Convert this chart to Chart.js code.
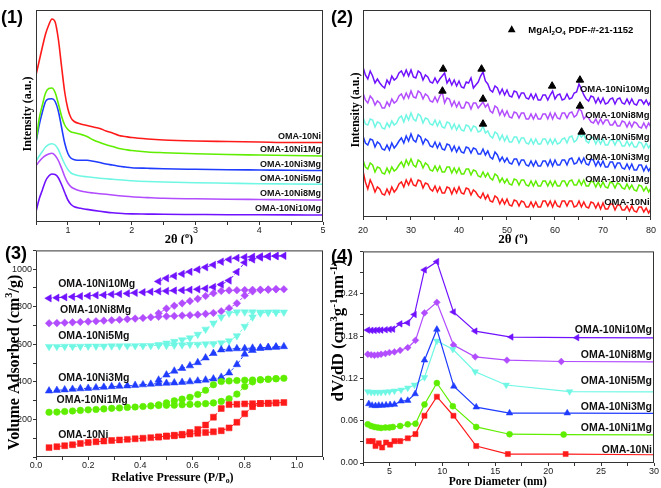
<!DOCTYPE html>
<html>
<head>
<meta charset="utf-8">
<script src="https://cdn.jsdelivr.net/npm/chart.js@4.4.1/dist/chart.umd.min.js"></script>
<style>
  html, body { margin: 0; padding: 0; background: #fff; }
  #wrap { position: relative; width: 661px; height: 488px; overflow: hidden; }
  canvas { position: absolute; }
  .tag { position: absolute; z-index: 2; font: bold 18px "Liberation Sans", Arial, sans-serif; line-height: 18px; color: #000; }
</style>
</head>
<body>
<div id="wrap">
  <canvas id="c1" width="330" height="244" style="left:0;top:0"></canvas>
  <canvas id="c2" width="331" height="244" style="left:330px;top:0"></canvas>
  <canvas id="c3" width="330" height="244" style="left:0;top:244px"></canvas>
  <canvas id="c4" width="331" height="244" style="left:330px;top:244px"></canvas>
  <div class="tag" style="left:1px;top:8px">(1)</div>
  <div class="tag" style="left:331px;top:8px">(2)</div>
  <div class="tag" style="left:5px;top:244px">(3)</div>
  <div class="tag" style="left:331px;top:247px">(4)</div>
</div>
<script>
// ---- data ----
const sampleNames = ['OMA-10Ni', 'OMA-10Ni1Mg', 'OMA-10Ni3Mg', 'OMA-10Ni5Mg', 'OMA-10Ni8Mg', 'OMA-10Ni10Mg'];

// (1) low-angle XRD
const saxsTheta = [0.5, 0.55, 0.6, 0.65, 0.7, 0.75, 0.8, 0.85, 0.9, 0.95, 1.0, 1.05, 1.1, 1.2, 1.3, 1.4, 1.5, 1.6, 1.7, 1.8, 1.9, 2.0, 2.25, 2.5, 3.0, 3.5, 4.0, 4.5, 5.0];
const saxs10Ni = [147, 161, 175, 188, 197, 203, 200, 183, 156, 130, 113, 104, 100.5, 98, 96.5, 95, 93.5, 91, 89, 86.5, 85.5, 84.5, 83, 82, 81, 80.5, 80, 79.5, 79.5];
const saxs1Mg = [80, 103, 117, 129, 133.5, 134, 129.5, 118.5, 106, 97, 92.5, 90, 89.3, 87.7, 85.5, 82, 79.5, 77.3, 75.5, 73.5, 72.5, 71.5, 70, 69.3, 68.3, 67.5, 67, 66.5, 66];
const saxs3Mg = [79.7, 97, 110, 120.5, 123, 123.3, 120.5, 111, 95, 79, 68.5, 63.7, 62.3, 61.7, 61.7, 60.8, 59.5, 58, 57, 55.8, 55, 54.3, 53.7, 53.2, 52.7, 52.3, 52, 51.7, 51.5];
const saxs5Mg = [60.7, 66, 70.5, 75, 77.5, 78.3, 77, 72.5, 65, 58, 52.5, 49, 47.5, 46, 45.2, 44.5, 43.8, 43.2, 42.7, 42.2, 41.8, 41.3, 40.5, 40, 39.3, 38.8, 38.3, 38, 37.7];
const saxs8Mg = [56.3, 60.5, 64, 66.5, 68, 68.7, 66.5, 61.5, 54, 45.5, 39, 35.2, 33.3, 31, 29.8, 29, 28.3, 27.7, 27, 26.3, 25.7, 25.2, 24.4, 23.7, 23.2, 22.8, 22.5, 22.2, 22];
const saxs10Mg = [10.3, 23, 32, 41, 46, 48, 47.5, 44.3, 37.5, 29.5, 22, 17.5, 15.2, 13.7, 12.6, 11.6, 10.7, 9.9, 9.2, 8.7, 8.3, 8.1, 7.9, 7.7, 7.5, 7.3, 7.2, 7.1, 7];

// (2) wide-angle XRD, scan 20-80 deg, step 0.5
const xrdStart = 20, xrdStep = 0.5;
const xrd10Ni = [46,35,28,37,32,25,30,28,23,22, 28,23,30,25,28,33,35,30,37,32, 38,32,31,37,36,29,34,33,28,26,
  31,25,30,24,24,30,29,23,29,24, 30,24,23,29,28,22,27,25,21,19, 24,18,22,16,15,21,19,13,18,13,
  18,12,11,17,16,11,16,15,10,10, 15,10,15,10,10,16,16,11,16,10, 16,11,10,16,16,11,16,16,10,11,
  16,10,15,10,9,15,14,9,14,8, 14,8,8,13,13,7,12,12,7,7, 11,6,11,6,5,10,10,5,9,4, 8];
const xrd1Mg = [57,50,48,54,52,45,50,49,44,43, 49,44,50,46,48,52,55,50,57,52, 58,52,50,57,55,49,54,52,47,46,
  51,46,51,45,45,50,50,44,49,44, 49,43,43,48,48,42,47,46,41,40, 45,40,44,39,37,43,41,35,39,34,
  38,33,32,38,37,32,37,37,32,31, 36,31,36,31,31,36,36,31,36,31, 36,31,31,36,36,31,36,37,32,32,
  37,32,37,31,31,36,35,30,35,30, 35,30,29,35,34,29,34,33,29,28, 33,28,32,27,26,32,31,26,30,25, 29];
const xrd3Mg = [81,74,72,78,77,70,75,73,68,67, 72,67,74,69,72,76,79,74,81,76, 83,77,75,82,80,73,78,76,71,70,
  75,69,74,68,67,73,72,66,71,65, 70,65,64,70,69,64,69,68,63,63, 68,62,66,60,58,65,62,56,60,55,
  59,54,53,58,58,52,57,57,52,51, 56,51,56,51,51,56,56,51,57,51, 57,52,52,57,57,52,58,59,53,54,
  59,54,59,53,52,58,57,51,56,51, 56,50,50,55,55,49,54,54,49,48, 53,48,53,47,47,52,52,46,51,46, 50];
const xrd5Mg = [100,93,92,98,97,90,95,94,89,88, 94,90,96,92,94,99,101,95,102,97, 104,98,96,103,101,94,99,98,93,92,
  97,91,96,90,89,95,94,88,93,87, 92,87,86,92,91,86,91,90,85,86, 91,84,86,81,79,85,83,77,82,76,
  81,75,75,80,80,74,79,79,74,73, 78,73,78,73,73,78,78,73,78,73, 78,73,74,78,79,74,80,81,75,77,
  83,80,83,76,74,80,79,73,78,73, 78,72,72,77,77,72,77,76,71,71, 76,71,75,70,70,75,74,69,74,69, 73];
const xrd8Mg = [124,117,114,121,118,112,116,114,109,109, 115,111,118,114,116,121,123,118,124,119, 126,120,119,126,124,118,123,121,116,115,
  120,115,121,125,114,119,118,111,116,110, 115,109,109,115,114,108,114,114,109,112, 115,110,113,106,104,111,109,102,107,101,
  106,100,99,105,104,99,104,104,98,98, 103,98,103,98,98,103,103,98,104,98, 104,99,98,104,104,99,104,105,100,102,
  108,106,98,101,99,95,94,98,93,98, 93,97,97,92,92,96,91,91,96,95, 90,95,90,95,94,90,89,94,89,94, 90];
const xrd10Mg = [150,142,138,146,141,134,138,134,131,129, 137,133,141,137,139,144,146,141,147,141, 147,140,139,146,144,137,142,140,135,134,
  139,134,138,141,144,134,138,132,137,131, 136,130,129,135,134,139,129,132,135,141, 145,136,133,127,125,131,129,123,128,122,
  127,121,120,126,125,119,124,124,119,118, 123,118,123,117,117,122,122,117,122,126, 118,122,123,117,118,123,118,119,124,125,
  133,128,122,118,116,121,120,114,119,114, 119,113,114,118,119,113,118,119,114,113, 118,113,118,113,112,117,117,113,117,112, 116];
// MgAl2O4 reflections marked with triangles
const spinelTheta = [36.7, 44.7, 59.4, 65.2, 36.55, 45.0, 65.2, 45.0, 65.55];
const spinelI = [148, 148, 131, 137, 126, 118, 111, 93, 85];

// (3) N2 isotherms
const isoAdsP = [0.05, 0.08, 0.11, 0.14, 0.17, 0.20, 0.23, 0.26, 0.29, 0.32, 0.35, 0.38, 0.41, 0.44, 0.47, 0.50, 0.53, 0.56, 0.59, 0.62, 0.65, 0.68, 0.71, 0.74, 0.77, 0.80, 0.83, 0.86, 0.89, 0.92, 0.95];
const isoDesP = [0.92, 0.89, 0.86, 0.83, 0.80, 0.77, 0.74, 0.71, 0.68, 0.65, 0.62, 0.59, 0.56, 0.53, 0.50, 0.47];
const ads10Ni = [50, 55, 60, 65, 72, 77, 81, 85, 88, 91, 94, 97, 100, 103, 106, 110, 113, 117, 122, 126, 130, 134, 140, 155, 185, 230, 268, 285, 286, 288, 290];
const des10Ni = [288, 286, 285, 284, 283, 281, 279, 258, 212, 170, 147, 130, 121, 116, 112, 107];
const ads1Mg = [238, 239, 242, 245, 248, 251, 253, 256, 259, 261, 264, 266, 269, 272, 274, 275, 276, 278, 280, 281, 284, 288, 296, 310, 335, 375, 400, 411, 414, 417, 419];
const des1Mg = [417, 414, 411, 410, 409, 407, 405, 402, 385, 355, 333, 318, 308, 299, 288, 278];
const ads3Mg = [352, 355, 358, 361, 364, 366, 369, 372, 375, 377, 379, 382, 385, 388, 391, 393, 395, 398, 401, 405, 410, 416, 425, 448, 492, 548, 568, 579, 582, 585, 588];
const des3Mg = [586, 584, 582, 580, 578, 577, 575, 571, 552, 528, 503, 486, 472, 458, 437, 410];
const ads5Mg = [588, 588, 589, 589, 589, 590, 590, 590, 591, 591, 592, 592, 593, 593, 594, 594, 595, 597, 599, 600, 602, 603, 607, 618, 645, 695, 745, 766, 770, 771, 771];
const des5Mg = [771, 771, 771, 772, 772, 772, 765, 745, 712, 680, 653, 634, 624, 615, 606, 598];
const ads8Mg = [712, 713, 715, 717, 719, 721, 723, 726, 728, 731, 734, 737, 740, 744, 747, 749, 751, 753, 755, 758, 762, 767, 776, 792, 818, 860, 882, 889, 891, 893, 893];
const des8Mg = [893, 892, 891, 890, 889, 888, 887, 884, 872, 857, 842, 830, 818, 805, 790, 765];
const ads10Mg = [845, 848, 851, 853, 856, 858, 861, 863, 866, 868, 871, 874, 877, 880, 882, 884, 886, 888, 890, 893, 897, 905, 918, 940, 985, 1035, 1052, 1062, 1067, 1070, 1071];
const des10Mg = [1070, 1069, 1068, 1066, 1064, 1060, 1052, 1040, 1023, 1010, 998, 986, 975, 964, 952, 935];

// (4) pore size distributions
const psd10NiD = [3.05, 3.42, 3.68, 3.99, 4.31, 4.68, 5.06, 5.47, 6.01, 6.73, 7.46, 8.31, 9.48, 11.05, 13.2, 16.19, 21.65, 40];
const psd10NiV = [0.031, 0.031, 0.024, 0.028, 0.022, 0.029, 0.026, 0.031, 0.031, 0.035, 0.041, 0.067, 0.094, 0.067, 0.024, 0.0127, 0.0127, 0.0105];
const psd1MgD = [2.95, 3.27, 3.58, 3.9, 4.21, 4.62, 5.0, 5.32, 6.01, 6.73, 7.46, 8.31, 9.48, 10.99, 13.2, 16.35, 21.46, 40];
const psd1MgV = [0.0548, 0.0525, 0.0511, 0.0502, 0.0497, 0.0502, 0.0502, 0.0511, 0.0525, 0.0548, 0.0558, 0.083, 0.1134, 0.0806, 0.0511, 0.0408, 0.0403, 0.0392];
const psd3MgD = [3.05, 3.36, 3.68, 3.99, 4.31, 4.68, 5.06, 5.47, 6.1, 6.73, 7.43, 8.31, 9.48, 11.08, 13.2, 16.35, 21.8, 40];
const psd3MgV = [0.0839, 0.0816, 0.0811, 0.0816, 0.0816, 0.082, 0.0825, 0.083, 0.0877, 0.0886, 0.098, 0.1458, 0.1894, 0.1088, 0.0792, 0.0708, 0.0708, 0.0698];
const psd5MgD = [2.95, 3.27, 3.58, 3.9, 4.21, 4.62, 5.0, 5.47, 6.1, 6.73, 7.36, 8.31, 9.48, 10.99, 13.1, 16.03, 22.02, 40];
const psd5MgV = [0.1013, 0.1003, 0.1003, 0.1003, 0.1003, 0.1008, 0.1013, 0.1022, 0.1036, 0.1064, 0.1106, 0.1214, 0.173, 0.1613, 0.1294, 0.1106, 0.1013, 0.1005];
const psd8MgD = [2.95, 3.27, 3.58, 3.9, 4.21, 4.62, 5.0, 5.47, 6.01, 6.73, 7.46, 8.31, 9.48, 11.05, 13.1, 16.1, 21.24, 40];
const psd8MgV = [0.1542, 0.1533, 0.1528, 0.1533, 0.1542, 0.1552, 0.1566, 0.1575, 0.1598, 0.1636, 0.1739, 0.2128, 0.2278, 0.1673, 0.1505, 0.1458, 0.1439, 0.1425];
const psd10MgD = [2.95, 3.27, 3.58, 3.9, 4.21, 4.62, 5.0, 5.32, 6.01, 6.73, 7.36, 8.31, 9.48, 11.05, 13.1, 16.5, 22.72, 40];
const psd10MgV = [0.1884, 0.188, 0.188, 0.1884, 0.1884, 0.1889, 0.1894, 0.1898, 0.1973, 0.1988, 0.2105, 0.2738, 0.2855, 0.2142, 0.187, 0.1786, 0.1777, 0.1768];

// ---- styles / layout ----
const SANS = '"Liberation Sans", Arial, sans-serif';
const SERIF = '"Liberation Serif", "Times New Roman", serif';
const lineColors = ['#ff1a1a', '#5fee00', '#1f3cff', '#6ff7e4', '#b24cff', '#7012ff'];
const pointStyles = ['rect', 'circle', 'triangle', 'triangle', 'rectRot', 'triangle'];
const pointRotations = [0, 0, 0, 180, 0, -90];
const isoRadius = [4.2, 3.3, 4.3, 4.3, 3.8, 4.3];
const psdRadius = [3.6, 3.0, 3.8, 3.8, 3.4, 3.8];

// label anchors, in data units of each panel
const saxsLabelX = 4.97, saxsLabelY = [85.3, 72, 57.7, 43, 28, 13];
const xrdLabelX = 79.7, xrdLabelY = [15, 37.3, 60, 80, 101.7, 127.3];
const isoLabelX = [0.085, 0.079, 0.085, 0.085, 0.092, 0.085], isoLabelY = [116, 305, 419, 646, 783, 921];
const psdLabelX = 29.8, psdLabelY = [0.0188, 0.0488, 0.0792, 0.1158, 0.1533, 0.1884];

Chart.defaults.font.family = SANS;
Chart.defaults.color = '#222';

const near = (v, k) => Math.abs(v / k - Math.round(v / k)) < 1e-6;

function axis(o) {
  const showTicks = o.label !== undefined;
  return {
    type: 'linear', min: o.min, max: o.max,
    afterFit: s => { if (s.isHorizontal()) s.height = o.size; else s.width = o.size; },
    border: { display: false },
    grid: { display: showTicks, drawOnChartArea: false, drawTicks: true, tickLength: 3, color: '#333' },
    ticks: showTicks ? {
      stepSize: o.step, autoSkip: false, maxRotation: 0, padding: o.pad || 0,
      font: { size: 9 }, color: '#222', callback: o.label
    } : { display: false }
  };
}

// draws text made of normal / sup / sub pieces
function rich(ctx, parts, x, y, size, opt) {
  const fam = opt.family || SERIF, wt = opt.weight || 'bold';
  const fontOf = k => `${wt} ${k ? size * 0.65 : size}px ${fam}`;
  let total = 0;
  parts.forEach(([t, k]) => { ctx.font = fontOf(k); total += ctx.measureText(t).width; });
  ctx.save();
  ctx.translate(x, y);
  if (opt.rotate) ctx.rotate(opt.rotate);
  ctx.fillStyle = '#000';
  ctx.textAlign = 'left';
  ctx.textBaseline = 'alphabetic';
  let cx = opt.align === 'left' ? 0 : opt.align === 'right' ? -total : -total / 2;
  parts.forEach(([t, k]) => {
    ctx.font = fontOf(k);
    const dy = k === 'sup' ? -size * 0.4 : k === 'sub' ? size * 0.2 : 0;
    ctx.fillText(t, cx, size * 0.35 + dy);
    cx += ctx.measureText(t).width;
  });
  ctx.restore();
}

function seriesLabels(chart, xs, ys, align, size) {
  const { ctx, scales } = chart;
  ctx.save();
  ctx.font = `bold ${size}px ${SANS}`;
  ctx.fillStyle = '#111';
  ctx.textAlign = align;
  ctx.textBaseline = 'middle';
  sampleNames.forEach((n, i) => {
    const x = Array.isArray(xs) ? xs[i] : xs;
    ctx.fillText(n, scales.x.getPixelForValue(x), scales.y.getPixelForValue(ys[i]));
  });
  ctx.restore();
}

function decor(draw) {
  return {
    id: 'decor',
    afterDraw(chart) {
      const { ctx, chartArea: a } = chart;
      ctx.save();
      ctx.strokeStyle = '#333';
      ctx.lineWidth = 1;
      ctx.strokeRect(a.left + 0.5, a.top + 0.5, a.right - a.left - 1, a.bottom - a.top - 1);
      ctx.restore();
      draw(chart, ctx);
    }
  };
}

const base = (pad) => ({
  responsive: false, animation: false, events: [],
  layout: { padding: pad },
  plugins: { legend: { display: false }, tooltip: { enabled: false } }
});

// ---- (1) ----
const saxsSeries = [saxs10Ni, saxs1Mg, saxs3Mg, saxs5Mg, saxs8Mg, saxs10Mg];
new Chart(document.getElementById('c1'), {
  type: 'line',
  data: {
    datasets: saxsSeries.map((s, i) => ({
      label: sampleNames[i],
      data: saxsTheta.map((x, j) => ({ x, y: s[j] })),
      borderColor: lineColors[i], borderWidth: 1.6, pointRadius: 0,
      cubicInterpolationMode: 'monotone', fill: false
    }))
  },
  options: {
    ...base({ top: 10, right: 7, left: 0, bottom: 0 }),
    scales: {
      x: axis({ min: 0.5, max: 5, size: 22, step: 0.5, pad: 0, label: v => near(v, 1) ? Math.round(v) : '' }),
      y: axis({ min: 0, max: 212, size: 36 })
    }
  },
  plugins: [decor((chart, ctx) => {
    seriesLabels(chart, saxsLabelX, saxsLabelY, 'right', 9);
    rich(ctx, [['Intensity (a.u.)', '']], 27, 114, 12, { rotate: -Math.PI / 2 });
    rich(ctx, [['2\u03B8 (', ''], ['o', 'sup'], [')', '']], 179, 238.5, 12.5, {});
  })]
});

// ---- (2) ----
const xrdSeries = [xrd10Ni, xrd1Mg, xrd3Mg, xrd5Mg, xrd8Mg, xrd10Mg];
new Chart(document.getElementById('c2'), {
  type: 'line',
  data: {
    datasets: [{
      label: 'MgAl2O4',
      data: spinelTheta.map((x, j) => ({ x, y: spinelI[j] })),
      showLine: false, pointStyle: 'triangle', pointRadius: 4.3,
      pointBackgroundColor: '#000', pointBorderColor: '#000', pointBorderWidth: 1
    }].concat(xrdSeries.map((s, i) => ({
      label: sampleNames[i],
      data: s.map((y, j) => ({ x: xrdStart + j * xrdStep, y })),
      borderColor: lineColors[i], borderWidth: 1.5, pointRadius: 0, tension: 0, fill: false
    })))
  },
  options: {
    ...base({ top: 10, right: 10, left: 0, bottom: 0 }),
    scales: {
      x: axis({ min: 20, max: 80, size: 27, step: 5, pad: 5, label: v => near(v, 10) ? v : '' }),
      y: axis({ min: 0, max: 207, size: 33 })
    }
  },
  plugins: [decor((chart, ctx) => {
    seriesLabels(chart, xrdLabelX, xrdLabelY, 'right', 9.5);
    rich(ctx, [['Intensity (a.u.)', '']], 25, 110, 12, { rotate: -Math.PI / 2 });
    rich(ctx, [['2\u03B8 (', ''], ['o', 'sup'], [')', '']], 183, 238.5, 13, {});
    // legend
    ctx.save();
    ctx.fillStyle = '#000';
    ctx.beginPath();
    ctx.moveTo(181.7, 25.3); ctx.lineTo(185.6, 32.3); ctx.lineTo(177.8, 32.3); ctx.closePath();
    ctx.fill();
    ctx.restore();
    rich(ctx, [['MgAl', ''], ['2', 'sub'], ['O', ''], ['4', 'sub'], [' PDF-#-21-1152', '']], 198.3, 29.3, 9.5,
      { family: SANS, align: 'left' });
  })]
});

// ---- (3) ----
const isoAds = [ads10Ni, ads1Mg, ads3Mg, ads5Mg, ads8Mg, ads10Mg];
const isoDes = [des10Ni, des1Mg, des3Mg, des5Mg, des8Mg, des10Mg];
new Chart(document.getElementById('c3'), {
  type: 'line',
  data: {
    datasets: isoAds.map((ads, i) => ({
      label: sampleNames[i],
      data: isoAdsP.map((x, j) => ({ x, y: ads[j] }))
        .concat(isoDesP.map((x, j) => ({ x, y: isoDes[i][j] }))),
      borderColor: lineColors[i], borderWidth: 1, borderDash: [3, 2], tension: 0, fill: false,
      pointStyle: pointStyles[i], rotation: pointRotations[i], pointRadius: isoRadius[i],
      pointBackgroundColor: lineColors[i], pointBorderColor: lineColors[i], pointBorderWidth: 0.5
    }))
  },
  options: {
    ...base({ top: 5, right: 7, left: 0, bottom: 0 }),
    scales: {
      x: axis({ min: 0, max: 1.1, size: 31, step: 0.1, pad: 0,
        label: v => (near(v, 0.2) && v < 1.05) ? v.toFixed(1) : '' }),
      y: axis({ min: 0, max: 1100, size: 36, step: 100, pad: 1,
        label: v => (v > 0 && near(v, 200) && v < 1050) ? Math.round(v) : '' })
    }
  },
  plugins: [decor((chart, ctx) => {
    seriesLabels(chart, isoLabelX, isoLabelY, 'left', 10.5);
    rich(ctx, [['Volume Adsorbed (cm', ''], ['3', 'sup'], ['/g)', '']], 13, 118.3, 16, { rotate: -Math.PI / 2 });
    rich(ctx, [['Relative Pressure (P/P', ''], ['o', 'sub'], [')', '']], 172.5, 232.7, 12, {});
  })]
});

// ---- (4) ----
const psdD = [psd10NiD, psd1MgD, psd3MgD, psd5MgD, psd8MgD, psd10MgD];
const psdV = [psd10NiV, psd1MgV, psd3MgV, psd5MgV, psd8MgV, psd10MgV];
new Chart(document.getElementById('c4'), {
  type: 'line',
  data: {
    datasets: psdD.map((d, i) => ({
      label: sampleNames[i],
      data: d.map((x, j) => ({ x, y: psdV[i][j] })),
      borderColor: lineColors[i], borderWidth: 1.2, tension: 0, fill: false,
      pointStyle: pointStyles[i], rotation: pointRotations[i], pointRadius: psdRadius[i],
      pointBackgroundColor: lineColors[i], pointBorderColor: lineColors[i], pointBorderWidth: 0.5
    }))
  },
  options: {
    ...base({ top: 5, right: 7, left: 0, bottom: 0 }),
    scales: {
      x: axis({ min: 2.5, max: 30, size: 25, step: 2.5, pad: 0, label: v => near(v, 5) ? Math.round(v) : '' }),
      y: axis({ min: 0, max: 0.30, size: 33, step: 0.03, pad: 2,
        label: v => { const k = Math.round(v / 0.03); return (k % 2 === 0 && k <= 8) ? (k * 0.03).toFixed(2) : ''; } })
    }
  },
  plugins: [decor((chart, ctx) => {
    seriesLabels(chart, psdLabelX, psdLabelY, 'right', 10.5);
    rich(ctx, [['dV/dD (cm', ''], ['3', 'sup'], ['g', ''], ['-1', 'sup'], ['nm', ''], ['-1', 'sup'], [')', '']],
      7.5, 86.7, 17, { rotate: -Math.PI / 2 });
    rich(ctx, [['Pore Diameter (nm)', '']], 167.7, 237.3, 11.5, {});
  })]
});
</script>
</body>
</html>
